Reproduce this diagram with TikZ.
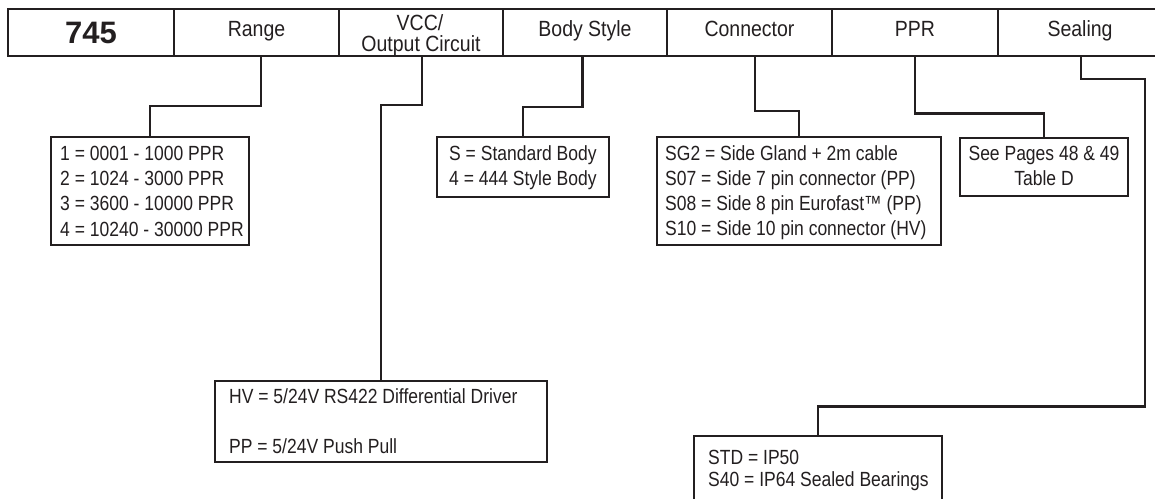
\documentclass[tikz,border=0pt]{standalone}
\usepackage{fontspec}
\setmainfont{Liberation Sans}
\newfontfamily\boxfont{Liberation Sans}[FakeStretch=0.854]
\newfontfamily\headfont{Liberation Sans}[FakeStretch=0.886]
\newfontfamily\numfont{Liberation Sans}
\definecolor{ink}{HTML}{231F20}
\begin{document}
\begin{tikzpicture}[x=1pt,y=-1pt,
  cell/.style={draw=ink, line width=2.3pt, minimum height=46.4pt, inner sep=0pt, outer sep=0pt},
  obox/.style={draw=ink, line width=2.3pt, inner sep=0pt, outer sep=0pt, anchor=north west},
  conn/.style={draw=ink, line width=2.4pt, line join=miter},
  htext/.style={font=\headfont\fontsize{22}{24}\selectfont, text=ink, inner sep=0pt, anchor=base},
  btext/.style={font=\boxfont\fontsize{20.5}{24}\selectfont, text=ink, inner sep=0pt, anchor=base west},
  ctext/.style={font=\boxfont\fontsize{20.5}{24}\selectfont, text=ink, inner sep=0pt, anchor=base}]
\clip (0,0) rectangle (1155,498);
\fill[white] (0,0) rectangle (1155,498);
% header cells
\node[cell, minimum width=166pt] (c1) at (91,32.5) {};
\node[cell, minimum width=165pt] (c2) at (256.5,32.5) {};
\node[cell, minimum width=164pt] (c3) at (421,32.5) {};
\node[cell, minimum width=164pt] (c4) at (585,32.5) {};
\node[cell, minimum width=165pt] (c5) at (749.5,32.5) {};
\node[cell, minimum width=166pt] (c6) at (915,32.5) {};
\node[cell, minimum width=166pt] (c7) at (1081,32.5) {};
% header labels
\node[font=\numfont\bfseries\fontsize{31}{33}\selectfont, text=ink, inner sep=0pt, anchor=base] (t1) at (91,43) {745};
\node[htext] (t2) at (256.5,36) {Range};
\node[htext] (t3a) at (420,30) {VCC/};
\node[htext] (t3b) at (421,51) {Output Circuit};
\node[htext] (t4) at (585,36) {Body Style};
\node[htext] (t5) at (749.5,36) {Connector};
\node[htext] (t6) at (915,36) {PPR};
\node[htext] (t7) at (1080,36) {Sealing};
% option boxes
\node[obox, minimum width=198pt, minimum height=108.3pt] (rbox) at (51,136.7) {};
\node[obox, minimum width=332pt, minimum height=81pt] (hvbox) at (215,381) {};
\node[obox, minimum width=172pt, minimum height=60pt] (bbox) at (437,137) {};
\node[obox, minimum width=284pt, minimum height=108pt] (cbox) at (657,137) {};
\node[obox, minimum width=168pt, minimum height=58pt] (pbox) at (960,138) {};
\node[obox, minimum width=248pt, minimum height=90pt] (sbox) at (694,436) {};
% box texts
\node[btext] (r1) at (60,160) {1 = 0001 - 1000 PPR};
\node[btext] (r2) at (60,185) {2 = 1024 - 3000 PPR};
\node[btext] (r3) at (60,210.5) {3 = 3600 - 10000 PPR};
\node[btext] (r4) at (60,236) {4 = 10240 - 30000 PPR};
\node[btext] (h1) at (229,403) {HV = 5/24V RS422 Differential Driver};
\node[btext] (h2) at (229,453) {PP = 5/24V Push Pull};
\node[btext] (b1) at (449,160) {S = Standard Body};
\node[btext] (b2) at (449,185) {4 = 444 Style Body};
\node[btext] (k1) at (665,160) {SG2 = Side Gland + 2m cable};
\node[btext] (k2) at (665,185) {S07 = Side 7 pin connector (PP)};
\node[btext] (k3) at (665,210) {S08 = Side 8 pin Eurofast™ (PP)};
\node[btext] (k4) at (665,235) {S10 = Side 10 pin connector (HV)};
\node[ctext] (p1) at (1044,160) {See Pages 48 \& 49};
\node[ctext] (p2) at (1044,185) {Table D};
\node[btext] (s1) at (708,464) {STD = IP50};
\node[btext] (s2) at (708,486) {S40 = IP64 Sealed Bearings};
% connectors
\coordinate (sturn) at (1145,406.5);
\draw[conn] ([xshift=4.5pt]c2.south) -- ++(0,50) -| (rbox.north);
\draw[conn] ([xshift=0.7pt]c3.south) -- ++(0,49.3) -| (hvbox.north);
\draw[conn] ([xshift=-2.7pt]c4.south) -- ++(0,51) -| (bbox.north);
\draw[conn] ([xshift=5.5pt]c5.south) -- ++(0,55.3) -| (cbox.north);
\draw[conn] (c6.south) -- ++(0,57.6) -| (pbox.north);
\draw[conn] (c7.south) -- ++(0,23.3) -| (sturn) -| (sbox.north);
\end{tikzpicture}
\end{document}
